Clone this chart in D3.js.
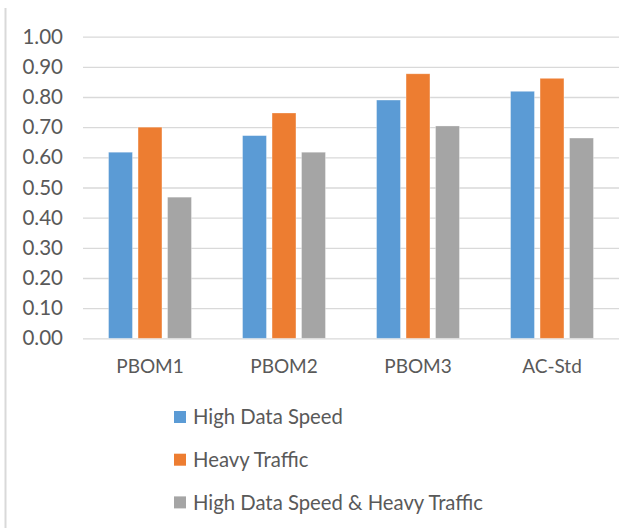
<!DOCTYPE html>
<html>
<head>
<meta charset="utf-8">
<script src="https://cdn.jsdelivr.net/npm/d3@7"></script>
<style>
  html, body { margin: 0; padding: 0; background: #fff; }
  svg { display: block; }
  text { font-family: Lato, "Open Sans", sans-serif; fill: #595959; }
</style>
</head>
<body>
<svg id="chart" width="640" height="528"></svg>
<script>
const categories = ["PBOM1", "PBOM2", "PBOM3", "AC-Std"];
const seriesNames = ["High Data Speed", "Heavy Traffic", "High Data Speed & Heavy Traffic"];
const highDataSpeed = [0.617, 0.672, 0.790, 0.819];
const heavyTraffic = [0.700, 0.747, 0.877, 0.862];
const combined = [0.468, 0.617, 0.704, 0.664];
const yTicks = [0, 0.1, 0.2, 0.3, 0.4, 0.5, 0.6, 0.7, 0.8, 0.9, 1.0];
const colors = ["#5B9BD5", "#ED7D31", "#A5A5A5"];

const seriesValues = [highDataSpeed, heavyTraffic, combined];

const svg = d3.select("#chart");
const fontSize = 19;
const yFontSize = 20.5;
const legendFontSize = 20.3;

// outer frame line on left
svg.append("line")
  .attr("x1", 5.5).attr("x2", 5.5).attr("y1", 8).attr("y2", 528)
  .attr("stroke", "#D9D9D9").attr("stroke-width", 2);

const plot = { left: 83, right: 619, top: 36.7, bottom: 338.3 };

const x0 = d3.scaleBand().domain(categories).range([plot.left, plot.right]).padding(0);
const bw = x0.bandwidth();
const groupW = 88.5;
const x1 = d3.scaleBand().domain(seriesNames)
  .range([(bw - groupW) / 2, (bw + groupW) / 2])
  .paddingInner(0.19).paddingOuter(0.095);
const y = d3.scaleLinear().domain([0, 1]).range([plot.bottom, plot.top]);

// gridlines + y labels via axis
const yAxis = d3.axisLeft(y).tickValues(yTicks).tickFormat(d3.format(".2f"))
  .tickSize(-(plot.right - plot.left)).tickPadding(20);
const gy = svg.append("g").attr("transform", `translate(${plot.left},0)`).call(yAxis);
gy.select(".domain").remove();
gy.selectAll(".tick line").attr("stroke", "#D9D9D9").attr("stroke-width", 1.3);
gy.selectAll(".tick text").attr("font-size", yFontSize).attr("fill", "#595959")
  .style("font-family", "Lato, 'Open Sans', sans-serif");

// bars
const groups = svg.append("g").selectAll("g")
  .data(categories)
  .join("g")
  .attr("transform", d => `translate(${x0(d)},0)`);

groups.selectAll("rect")
  .data((c, ci) => seriesNames.map((s, si) => ({ s, si, v: seriesValues[si][ci] })))
  .join("rect")
  .attr("x", d => x1(d.s))
  .attr("width", x1.bandwidth())
  .attr("y", d => y(d.v))
  .attr("height", d => y(0) - y(d.v))
  .attr("fill", d => colors[d.si])
  .attr("stroke", "#ffffff").attr("stroke-opacity", 0.4).attr("stroke-width", 0.75);

// x axis labels
const xAxis = d3.axisBottom(x0).tickSize(0).tickPadding(21);
const gx = svg.append("g").attr("transform", `translate(0,${plot.bottom})`).call(xAxis);
gx.select(".domain").remove();
gx.selectAll(".tick text").attr("font-size", fontSize).attr("fill", "#595959")
  .style("font-family", "Lato, 'Open Sans', sans-serif");

// legend
const legendTop = 411;
const legendStep = 42.7;
const leg = svg.append("g").selectAll("g")
  .data(seriesNames)
  .join("g")
  .attr("transform", (d, i) => `translate(174,${legendTop + i * legendStep})`);
leg.append("rect").attr("width", 12).attr("height", 12).attr("fill", (d, i) => colors[i]);
leg.append("text").attr("x", 19).attr("y", 13.3).attr("font-size", legendFontSize).text(d => d);
</script>
</body>
</html>
